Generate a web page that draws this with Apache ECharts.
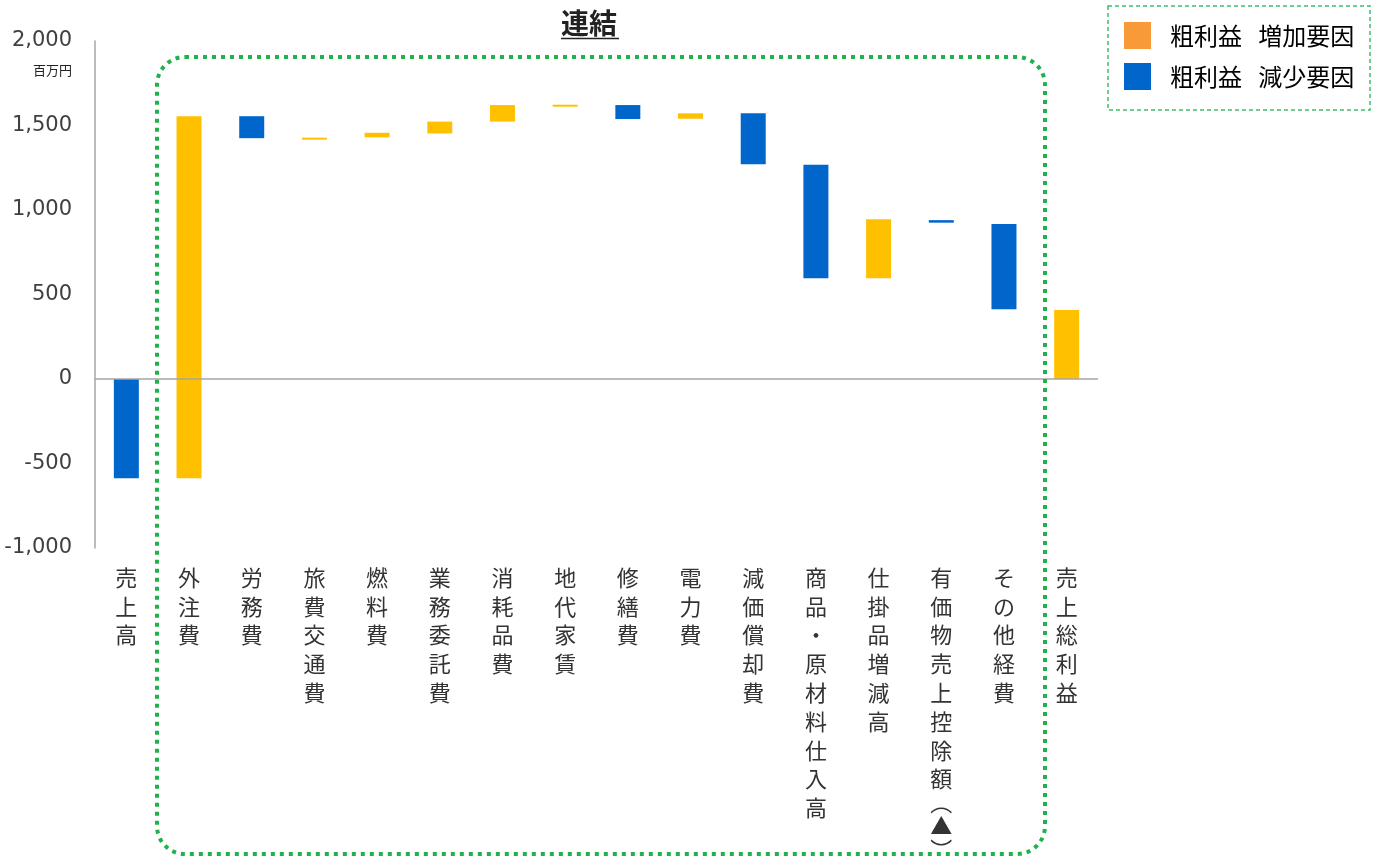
<!DOCTYPE html>
<html>
<head>
<meta charset="utf-8">
<script src="https://cdn.jsdelivr.net/npm/echarts@6/dist/echarts.min.js"></script>
<style>
html,body{margin:0;padding:0;background:#fff;}
#main{width:1378px;height:857px;}
</style>
</head>
<body>
<div id="main"></div>
<script>
var categories = ['売上高','外注費','労務費','旅費交通費','燃料費','業務委託費','消耗品費','地代家賃','修繕費','電力費','減価償却費','商品・原材料仕入高','仕掛品増減高','有価物売上控除額︵▲︶','その他経費','売上総利益'];
var barStart = [0, -588, 1555, 1422, 1430, 1453, 1523, 1619, 1621, 1540, 1572, 1268, 596, 940, 917, 0];
var barEnd   = [-588, 1555, 1425, 1428, 1457, 1523, 1621, 1623, 1538, 1572, 1270, 596, 945, 925, 412, 408];
var yTicks = {min: -1000, max: 2000, interval: 500};
var legendNames = ['粗利益　増加要因', '粗利益　減少要因'];

var incData = [], decData = [];
for (var i = 0; i < categories.length; i++) {
  var item = [i, barStart[i], barEnd[i]];
  if (barEnd[i] >= barStart[i]) incData.push(item); else decData.push(item);
}

function renderBar(params, api) {
  var p1 = api.coord([api.value(0), api.value(1)]);
  var p2 = api.coord([api.value(0), api.value(2)]);
  var w = 25;
  var top = Math.min(p1[1], p2[1]);
  var h = Math.max(Math.abs(p1[1] - p2[1]), 2);
  return {
    type: 'rect',
    shape: {x: p1[0] - w / 2, y: top, width: w, height: h},
    style: {fill: api.visual('color')}
  };
}

function verticalLabel(v) {
  return v.split('').map(function (c) {
    if (c === '︵' || c === '︶') return '{p|' + c + '}';
    return '{c|' + c + '}';
  }).join('\n');
}

var chart = echarts.init(document.getElementById('main'));
chart.setOption({
  animation: false,
  grid: {left: 95, right: 280, top: 41, bottom: 309, containLabel: false, outerBoundsMode: 'none'},
  legend: {
    orient: 'vertical',
    left: 1124, top: 22, padding: 0,
    itemWidth: 27, itemHeight: 27, itemGap: 14,
    formatter: function (name) { return name.replace('　', '   '); },
    textStyle: {fontSize: 24, color: '#000', fontFamily: 'Noto Sans CJK JP', padding: [0, 0, 0, 14]},
    data: [
      {name: legendNames[0], icon: 'rect', itemStyle: {color: '#F99A38'}},
      {name: legendNames[1], icon: 'rect', itemStyle: {color: '#0066CC'}}
    ]
  },
  xAxis: {
    type: 'category',
    data: categories,
    axisLine: {show: false, onZero: false},
    axisTick: {show: false},
    axisLabel: {
      interval: 0,
      margin: 15,
      color: '#333',
      fontFamily: 'Noto Sans CJK JP',
      formatter: verticalLabel,
      rich: {
        c: {fontSize: 22, lineHeight: 28.8, color: '#333', fontFamily: 'Noto Sans CJK JP'},
        p: {fontSize: 22, lineHeight: 18, color: '#333', fontFamily: 'Noto Sans CJK JP'}
      }
    },
    splitLine: {show: false}
  },
  yAxis: {
    type: 'value',
    min: yTicks.min, max: yTicks.max, interval: yTicks.interval,
    axisLine: {show: true, lineStyle: {color: '#a6a6a6', width: 1.5}},
    axisTick: {show: false},
    splitLine: {show: false},
    axisLabel: {
      fontSize: 21, color: '#404040', margin: 23,
      fontFamily: 'DejaVu Sans',
      formatter: function (v) { return echarts.format.addCommas(v); }
    }
  },
  series: [
    {
      name: legendNames[0], type: 'custom', renderItem: renderBar,
      encode: {x: 0, y: [1, 2]}, itemStyle: {color: '#FFC000'},
      data: incData, z: 3,
      markLine: {
        silent: true, symbol: 'none', label: {show: false},
        lineStyle: {color: '#a6a6a6', width: 1.5, type: 'solid'},
        data: [{yAxis: 0}]
      }
    },
    {
      name: legendNames[1], type: 'custom', renderItem: renderBar,
      encode: {x: 0, y: [1, 2]}, itemStyle: {color: '#0066CC'},
      data: decData, z: 3
    }
  ],
  graphic: [
    {type: 'text', left: 561, top: 9, style: {text: '連結', fontSize: 28, fontWeight: 'bold', fill: '#222', fontFamily: 'Noto Sans CJK JP'}},
    {type: 'line', shape: {x1: 561, y1: 38.5, x2: 619, y2: 38.5}, style: {stroke: '#222', lineWidth: 1.5}},
    {type: 'text', left: 33, top: 64, style: {text: '百万円', fontSize: 13, fill: '#222', fontFamily: 'Noto Sans CJK JP'}},
    {type: 'rect', shape: {x: 157, y: 57, width: 888, height: 797, r: 28},
     style: {fill: 'none', stroke: '#1FB24A', lineWidth: 4, lineDash: [4, 5]}, z: 10, silent: true},
    {type: 'rect', shape: {x: 1108, y: 6, width: 262, height: 104},
     style: {fill: 'none', stroke: '#3CC06A', lineWidth: 1.5, lineDash: [4, 3]}, silent: true}
  ]
});
</script>
</body>
</html>
